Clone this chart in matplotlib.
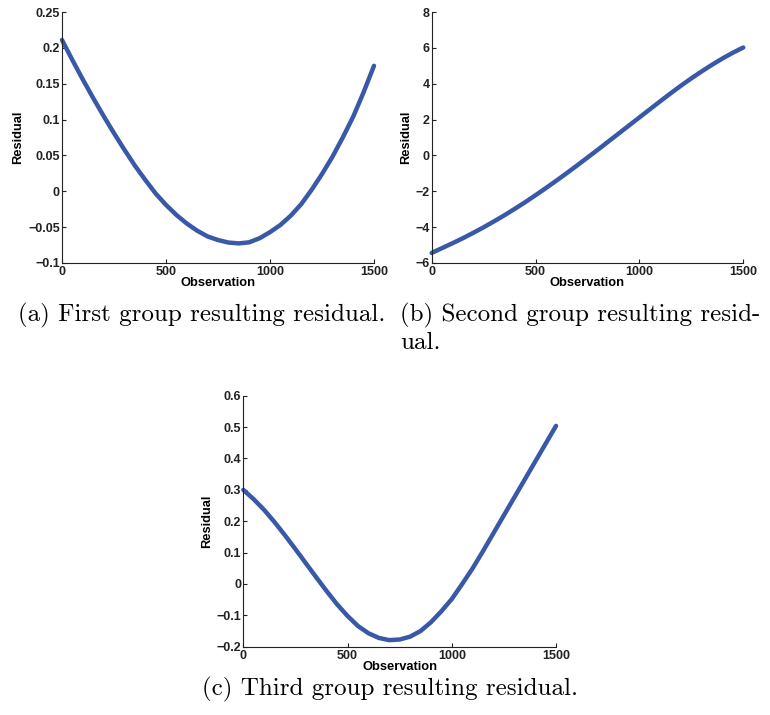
import numpy as np
import matplotlib
matplotlib.use('Agg')
import matplotlib.pyplot as plt
from matplotlib.ticker import FuncFormatter

obs = [0, 50, 100, 150, 200, 250, 300, 350, 400, 450, 500, 550, 600, 650, 700, 750,
       800, 850, 900, 950, 1000, 1050, 1100, 1150, 1200, 1250, 1300, 1350, 1400, 1450, 1500]

# (a) First group residual
res_a = [0.211, 0.183, 0.156, 0.130, 0.105, 0.081, 0.058, 0.036, 0.016, -0.003,
         -0.019, -0.033, -0.045, -0.055, -0.063, -0.068, -0.0715, -0.0727, -0.0712, -0.0655,
         -0.057, -0.047, -0.034, -0.018, 0.002, 0.024, 0.048, 0.075, 0.104, 0.138, 0.175]
# (b) Second group residual
res_b = [-5.44, -5.17, -4.90, -4.62, -4.32, -4.01, -3.68, -3.34, -2.98, -2.61,
         -2.22, -1.82, -1.41, -0.99, -0.56, -0.12, 0.32, 0.77, 1.22, 1.67,
         2.12, 2.57, 3.02, 3.46, 3.89, 4.30, 4.69, 5.06, 5.41, 5.73, 6.02]
# (c) Third group residual
res_c = [0.300, 0.270, 0.236, 0.197, 0.155, 0.111, 0.066, 0.021, -0.023, -0.065,
         -0.102, -0.134, -0.157, -0.172, -0.179, -0.177, -0.168, -0.150, -0.122, -0.087,
         -0.048, 0.000, 0.050, 0.105, 0.162, 0.219, 0.276, 0.333, 0.390, 0.447, 0.504]

x_ticks = [0, 500, 1000, 1500]
y_ticks_a = [-0.1, -0.05, 0, 0.05, 0.1, 0.15, 0.2, 0.25]
y_ticks_b = [-6, -4, -2, 0, 2, 4, 6, 8]
y_ticks_c = [-0.2, -0.1, 0, 0.1, 0.2, 0.3, 0.4, 0.5, 0.6]

captions = ["(a) First group resulting residual.",
            "(b) Second group resulting resid-",
            "ual.",
            "(c) Third group resulting residual."]

LINE_COLOR = '#3a58a8'
plt.rcParams['font.family'] = 'Liberation Sans'
plt.rcParams['font.weight'] = 'bold'


def fmt(v, pos):
    s = '%g' % round(v, 6)
    if s == '-0':
        s = '0'
    return s.replace('-', '\u2212')


def draw_panel(ax, y, yticks, ylab_x):
    ax.plot(obs, y, color=LINE_COLOR, linewidth=3.2, solid_capstyle='round',
            solid_joinstyle='round', clip_on=False)
    ax.set_xlim(0, 1500)
    ax.set_ylim(yticks[0], yticks[-1])
    ax.set_xticks(x_ticks)
    ax.set_yticks(yticks)
    ax.xaxis.set_major_formatter(FuncFormatter(fmt))
    ax.yaxis.set_major_formatter(FuncFormatter(fmt))
    for side in ['top', 'right']:
        ax.spines[side].set_visible(False)
    for side in ['left', 'bottom']:
        ax.spines[side].set_linewidth(0.8)
        ax.spines[side].set_color('#222222')
    ax.tick_params(direction='in', length=3, width=0.8, color='#222222',
                   labelsize=9, labelcolor='#222222')
    ax.tick_params(axis='y', pad=1.5)
    ax.tick_params(axis='x', pad=2.5)
    ax.set_xlabel('Observation', fontsize=9.3, fontweight='bold')
    ax.set_ylabel('Residual', fontsize=9.3, fontweight='bold')
    ax.xaxis.label.set_va('center')
    ax.xaxis.set_label_coords(0.5, -0.08)
    ax.yaxis.label.set_va('center')
    ax.yaxis.set_label_coords(ylab_x, 0.5)


fig = plt.figure(figsize=(7.7, 7.15), dpi=100)

ax_a = fig.add_axes([0.0805, 0.6322, 0.4052, 0.351])
ax_b = fig.add_axes([0.5606, 0.6322, 0.4047, 0.351])
ax_c = fig.add_axes([0.316, 0.0955, 0.4061, 0.351])

draw_panel(ax_a, res_a, y_ticks_a, -0.141)
draw_panel(ax_b, res_b, y_ticks_b, -0.083)
draw_panel(ax_c, res_c, y_ticks_c, -0.116)

cap = dict(family='cmr10', fontsize=18, weight='normal', va='center')
fig.text(202 / 770, 1 - 315 / 715, captions[0], ha='center', **cap)
fig.text(400 / 770, 1 - 315 / 715, captions[1], ha='left', **cap)
fig.text(400 / 770, 1 - 343 / 715, captions[2], ha='left', **cap)
fig.text(390 / 770, 1 - 689 / 715, captions[3], ha='center', **cap)

fig.savefig('out.png', dpi=100)
plt.close(fig)
